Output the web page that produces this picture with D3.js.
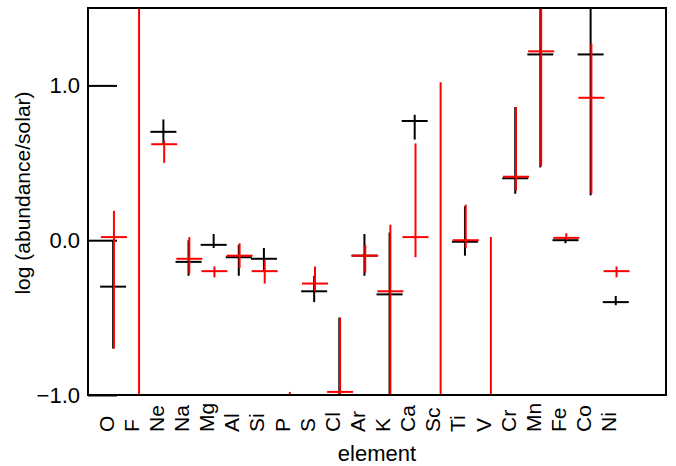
<!DOCTYPE html>
<html>
<head>
<meta charset="utf-8">
<script src="https://cdn.jsdelivr.net/npm/d3@7"></script>
<style>
  body { margin: 0; background: #fff; }
  text { font-family: "Liberation Sans", Arial, sans-serif; }
</style>
</head>
<body>
<svg id="canvas1" width="676" height="466"></svg>
<script>
// Select canvas
var svg1 = d3.select("#canvas1");

var	margin = {top: 8, right: 10, bottom: 71, left: 88},
	width = 676 - margin.left - margin.right,
	height = 466 - margin.top - margin.bottom;

// Elements along the x axis
var elements = ["O", "F", "Ne", "Na", "Mg", "Al", "Si", "P", "S", "Cl", "Ar",
                "K", "Ca", "Sc", "Ti", "V", "Cr", "Mn", "Fe", "Co", "Ni"];

// Black series: value, lower and upper error limit (null = not plotted)
var blackVal = [-0.30, null, 0.70, -0.14, -0.03, -0.11, -0.12, null, -0.33, -1.00, -0.10,
                -0.35, 0.77, null, -0.01, null, 0.40, 1.20, 0.00, 1.20, -0.40];
var blackLo  = [-0.70, null, 0.62, -0.23, -0.05, -0.23, -0.20, null, -0.40, -1.20, -0.23,
                -1.20, 0.65, null, -0.10, null, 0.30, 0.47, -0.02, 0.29, -0.42];
var blackHi  = [0.00, null, 0.78, 0.00, 0.04, -0.03, -0.05, null, -0.23, -0.50, 0.04,
                0.05, 0.81, null, 0.22, null, 0.86, 1.60, 0.02, 1.60, -0.36];

// Red series
var redVal = [0.02, -1.50, 0.62, -0.12, -0.20, -0.10, -0.20, -1.30, -0.28, -0.98, -0.10,
              -0.33, 0.02, -1.30, 0.00, -1.30, 0.41, 1.22, 0.015, 0.92, -0.20];
var redLo  = [-0.70, -3.00, 0.50, -0.215, -0.24, -0.18, -0.28, -1.60, -0.33, -1.20, -0.21,
              -1.20, -0.11, -2.00, -0.05, -2.00, 0.32, 0.48, 0.00, 0.30, -0.24];
var redHi  = [0.19, 2.00, 0.645, 0.02, -0.17, -0.02, -0.13, -0.98, -0.17, -0.50, -0.03,
              0.10, 0.625, 1.02, 0.23, 0.02, 0.86, 1.60, 0.045, 1.27, -0.17];

var yTicks = [-1, 0, 1];

var	x = d3.scaleLinear().domain([-1, elements.length + 1]).range([0, width]);
var	y = d3.scaleLinear().domain([-1, 1.5]).range([height, 0]);

var g = svg1.append("g")
    .attr("transform", "translate(" + margin.left + "," + margin.top + ")");

g.append("clipPath")
    .attr("id", "plotclip")
  .append("rect")
    .attr("width", width)
    .attr("height", height);

// Y axis (long inward ticks, no domain line)
var yAxis = d3.axisLeft(y)
    .tickValues(yTicks)
    .tickSize(-29)
    .tickPadding(8)
    .tickFormat(d3.format(".1f"));

var yg = g.append("g")
    .attr("class", "y axis")
    .call(yAxis);
yg.select(".domain").remove();
yg.selectAll("line").attr("stroke", "#000").attr("stroke-width", 2);
yg.selectAll("text")
    .style("font-size", "22px")
    .attr("fill", "#000");

// X axis: element names, rotated
var xAxis = d3.axisBottom(x)
    .tickValues(d3.range(elements.length))
    .tickSize(0)
    .tickFormat(function(i) { return elements[i]; });

var xg = g.append("g")
    .attr("class", "x axis")
    .attr("transform", "translate(0," + height + ")")
    .call(xAxis);
xg.select(".domain").remove();
xg.selectAll("text")
    .attr("x", 0)
    .attr("y", 0)
    .attr("dy", 0)
    .attr("transform", "translate(0,37) rotate(-90)")
    .attr("text-anchor", "start")
    .attr("fill", "#000")
    .style("font-size", "21px");

// Axis titles
g.append("text")
    .attr("transform", "translate(" + (width / 2) + "," + (height + 66) + ")")
    .style("text-anchor", "middle")
    .style("font-size", "22px")
    .text("element");

g.append("text")
    .attr("transform", "translate(" + (30 - margin.left) + "," + 185 + ") rotate(-90)")
    .style("text-anchor", "middle")
    .style("font-size", "21px")
    .text("log (abundance/solar)");

// Error-bar crosses
function drawSeries(vals, los, his, color, shift) {
    var pts = d3.range(elements.length).filter(function(i) { return vals[i] !== null; });
    var s = g.append("g").attr("clip-path", "url(#plotclip)");

    s.selectAll(null)
        .data(pts)
        .enter().append("line")
        .attr("x1", function(i) { return x(i) + shift; })
        .attr("x2", function(i) { return x(i) + shift; })
        .attr("y1", function(i) { return y(los[i]); })
        .attr("y2", function(i) { return y(his[i]); })
        .attr("stroke", color)
        .attr("stroke-width", 2);

    s.selectAll(null)
        .data(pts)
        .enter().append("line")
        .attr("x1", function(i) { return x(i) - 13 + shift; })
        .attr("x2", function(i) { return x(i) + 13 + shift; })
        .attr("y1", function(i) { return y(vals[i]); })
        .attr("y2", function(i) { return y(vals[i]); })
        .attr("stroke", color)
        .attr("stroke-width", 2);
}

drawSeries(blackVal, blackLo, blackHi, "#000", 0);
drawSeries(redVal, redLo, redHi, "#ff0000", 0.8);

// Frame
g.append("rect")
    .attr("width", width)
    .attr("height", height)
    .attr("fill", "none")
    .attr("stroke", "#000")
    .attr("stroke-width", 2);
</script>
</body>
</html>
